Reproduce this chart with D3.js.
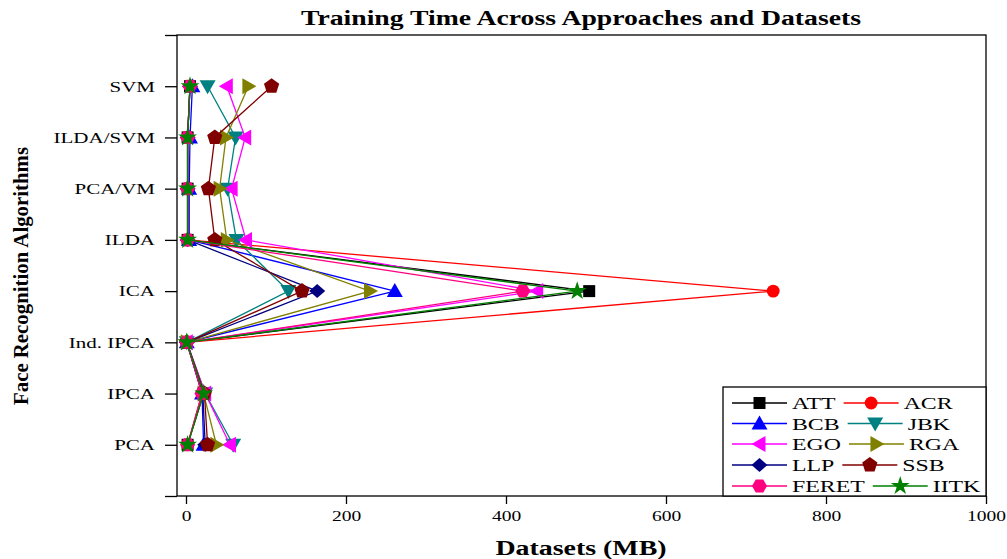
<!DOCTYPE html>
<html><head><meta charset="utf-8">
<script src="https://cdn.jsdelivr.net/npm/d3@7"></script>
<style>
body{margin:0;background:#fff;}
svg{display:block;}
text{font-family:"Liberation Serif","Times New Roman",serif;fill:#000;}
</style></head>
<body><svg id="chart" width="1007" height="559"></svg>
<script>
// ---- data ----
const categories = ["PCA","IPCA","Ind. IPCA","ICA","ILDA","PCA/VM","ILDA/SVM","SVM"];
const seriesNames = ["ATT","ACR","BCB","JBK","EGO","RGA","LLP","SSB","FERET","IITK"];
const ATT   = [2, 22, 1, 504, 2, 2, 2, 5];
const ACR   = [2, 20, 1, 734, 2, 2, 2, 5];
const BCB   = [22, 20, 1, 261, 4, 4, 5, 8];
const JBK   = [59, 24, 1, 128, 63, 52, 62, 27];
const EGO   = [55, 24, 1, 439, 75, 57, 74, 51];
const RGA   = [38, 22, 1, 230, 51, 42, 50, 78];
const LLP   = [24, 21, 1, 164, 2, 2, 2, 5];
const SSB   = [27, 23, 1, 145, 36, 28, 36, 107];
const FERET = [2, 20, 1, 421, 2, 2, 2, 5];
const IITK  = [2, 22, 1, 489, 2, 2, 2, 5];
const xTicks = [0, 200, 400, 600, 800, 1000];
const colors = ["#000000","#ff0000","#0000ff","#008080","#ff00ff","#808000","#000080","#800000","#ff0080","#008000"];
const shapes = ["square","circle","triUp","triDown","triLeft","triRight","diamond","pentagon","hexagon","star"];
const values = [ATT, ACR, BCB, JBK, EGO, RGA, LLP, SSB, FERET, IITK];

// ---- layout ----
const L = 177, R = 986, T = 35, B = 496;
const svg = d3.select("#chart");
const x = d3.scaleLinear().domain([-11.25, 1000]).range([L, R]);
const y = d3.scaleLinear().domain([0, 9]).range([B, T]);

function stretch(sel, f){
  sel.each(function(){
    const w = this.getComputedTextLength();
    d3.select(this).attr("textLength", w*f).attr("lengthAdjust","spacingAndGlyphs");
  });
}

function poly(n, r, rot){
  const p = [];
  for(let i=0;i<n;i++){ const a = rot + i*2*Math.PI/n; p.push([r*Math.cos(a), r*Math.sin(a)]); }
  return "M" + p.map(q=>q[0].toFixed(2)+","+q[1].toFixed(2)).join("L") + "Z";
}
function symbolPath(s){
  switch(s){
    case "square": return "M-6,-6L6,-6L6,6L-6,6Z";
    case "circle": return d3.symbol(d3.symbolCircle, 130)();
    case "triUp": return "M0,-8L8,6L-8,6Z";
    case "triDown": return "M0,8L8,-6L-8,-6Z";
    case "triLeft": return "M-8,0L6,-8L6,8Z";
    case "triRight": return "M8,0L-6,-8L-6,8Z";
    case "diamond": return "M0,-7L8,0L0,7L-8,0Z";
    case "pentagon": return poly(5, 8, -Math.PI/2);
    case "hexagon": return poly(6, 7.5, 0);
    case "star": return d3.symbol(d3.symbolStar, 110)();
  }
}

// ---- frame ----
svg.append("rect").attr("x",L).attr("y",T).attr("width",R-L).attr("height",B-T)
  .attr("fill","none").attr("stroke","#000").attr("stroke-width",1.3);

// y axis ticks + labels
const yAxis = d3.axisLeft(y).tickValues(d3.range(0,10)).tickSize(12).tickPadding(10)
  .tickFormat(d => (d>=1 && d<=8) ? categories[d-1] : "");
const gy = svg.append("g").attr("transform",`translate(${L},0)`).call(yAxis);
gy.select(".domain").remove();
gy.selectAll(".tick line").attr("stroke","#000").attr("stroke-width",1.3);
gy.selectAll(".tick text").attr("font-size",15).attr("font-family","Liberation Serif").attr("fill","#000");
stretch(gy.selectAll(".tick text"), 1.4);

// x axis ticks + labels
const xAxis = d3.axisBottom(x).tickValues(xTicks).tickSize(8).tickPadding(6).tickFormat(d3.format("d"));
const gx = svg.append("g").attr("transform",`translate(0,${B})`).call(xAxis);
gx.select(".domain").remove();
gx.selectAll(".tick line").attr("stroke","#000").attr("stroke-width",1.3);
gx.selectAll(".tick text").attr("font-size",15).attr("font-family","Liberation Serif").attr("fill","#000");
stretch(gx.selectAll(".tick text"), 1.3);

// ---- series ----
const line = d3.line().x(d=>x(d[0])).y(d=>y(d[1]));
values.forEach((vals, i) => {
  const pts = vals.map((v,j)=>[v, j+1]);
  const g = svg.append("g");
  g.append("path").attr("d", line(pts)).attr("fill","none")
    .attr("stroke", colors[i]).attr("stroke-width",1.3);
  g.selectAll("path.m").data(pts).join("path").attr("class","m")
    .attr("d", symbolPath(shapes[i]))
    .attr("transform", d=>`translate(${x(d[0])},${y(d[1])})`)
    .attr("fill", colors[i]);
});

// ---- legend ----
const lg = svg.append("g");
const box = lg.append("rect").attr("x",723).attr("y",387).attr("width",R-723).attr("height",B-387)
  .attr("fill","#fff").attr("stroke","#000").attr("stroke-width",1.3);
const rowsY = [403, 423.5, 444, 465, 486];
for(let r=0;r<5;r++){
  let cx = 732;
  for(let c=0;c<2;c++){
    const i = r*2 + c;
    const yy = rowsY[r];
    lg.append("line").attr("x1",cx).attr("x2",cx+55).attr("y1",yy).attr("y2",yy)
      .attr("stroke",colors[i]).attr("stroke-width",1.3);
    lg.append("path").attr("d",symbolPath(shapes[i])).attr("fill",colors[i])
      .attr("transform",`translate(${cx+27.5},${yy})`);
    const t = lg.append("text").attr("x",cx+60).attr("y",yy+6).attr("font-size",17).text(seriesNames[i]);
    stretch(t, 1.4);
    const w = +t.attr("textLength");
    cx = cx + 60 + w + 8;
  }
}

// ---- titles ----
const title = svg.append("text").attr("x",581).attr("y",25).attr("text-anchor","middle")
  .attr("font-size",20).attr("font-weight","bold").text("Training Time Across Approaches and Datasets");
title.attr("textLength",560).attr("lengthAdjust","spacingAndGlyphs");
const xl = svg.append("text").attr("x",581).attr("y",555).attr("text-anchor","middle")
  .attr("font-size",20).attr("font-weight","bold").text("Datasets (MB)");
xl.attr("textLength",171).attr("lengthAdjust","spacingAndGlyphs");
const yl = svg.append("text").attr("transform","translate(28,276) rotate(-90)").attr("text-anchor","middle")
  .attr("font-size",20).attr("font-weight","bold").text("Face Recognition Algorithms");
yl.attr("textLength",258).attr("lengthAdjust","spacingAndGlyphs");
</script></body></html>
